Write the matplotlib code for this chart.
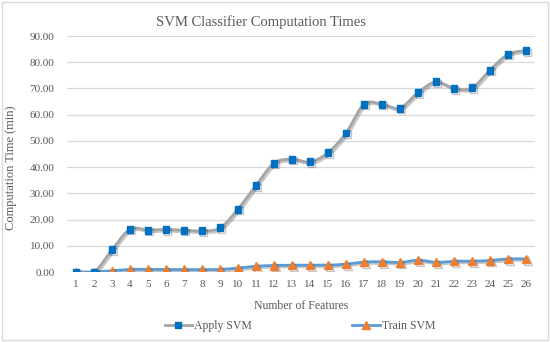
import numpy as np
import matplotlib
matplotlib.use("Agg")
import matplotlib.pyplot as plt
from matplotlib import patheffects as pe
from matplotlib.lines import Line2D
from matplotlib.patches import Rectangle

features = list(range(1, 27))
apply_svm = [0.0, 0.0, 8.5, 16.3, 16.0, 16.2, 15.9, 15.7, 16.8, 24.0, 33.0, 41.5, 43.0,
             42.0, 45.5, 53.0, 64.0, 64.0, 62.5, 68.5, 72.5, 70.0, 70.2, 77.0, 83.0, 84.5]
train_svm = [0.0, 0.0, 0.5, 1.0, 1.0, 0.9, 0.9, 0.9, 1.0, 1.5, 2.2, 2.5, 2.6,
             2.6, 2.6, 3.0, 3.8, 3.9, 3.6, 4.5, 3.7, 4.1, 4.1, 4.4, 5.0, 5.0]
yticks = [0, 10, 20, 30, 40, 50, 60, 70, 80, 90]

plt.rcParams['font.family'] = ['Liberation Serif', 'DejaVu Serif']


def smooth(x, y, n=20):
    # Catmull-Rom style smoothing for drawing the connecting curve
    x = np.asarray(x, float)
    y = np.asarray(y, float)
    px = np.concatenate([[2 * x[0] - x[1]], x, [2 * x[-1] - x[-2]]])
    py = np.concatenate([[2 * y[0] - y[1]], y, [2 * y[-1] - y[-2]]])
    xs, ys = [], []
    for i in range(1, len(px) - 2):
        t = np.linspace(0, 1, n, endpoint=False)
        for p, out in ((px, xs), (py, ys)):
            p0, p1, p2, p3 = p[i - 1], p[i], p[i + 1], p[i + 2]
            c1 = p1 + (p2 - p0) / 6
            c2 = p2 - (p3 - p1) / 6
            out.extend((1 - t) ** 3 * p1 + 3 * (1 - t) ** 2 * t * c1 + 3 * (1 - t) * t ** 2 * c2 + t ** 3 * p2)
    xs.append(x[-1]); ys.append(y[-1])
    return np.array(xs), np.array(ys)


fig = plt.figure(figsize=(5.5, 3.42), dpi=100)
ax = fig.add_axes([67 / 550, 1 - 272 / 342, (535 - 67) / 550, (272 - 36) / 342])

shadow = [pe.SimpleLineShadow(offset=(1.2, -1.2), shadow_color='k', alpha=0.22), pe.Normal()]

ax.set_ylim(0, 90)
ax.set_xlim(0.5, 26.5)
for yv in yticks:
    ax.axhline(yv, color='#d9d9d9', lw=0.9, zorder=0)

sx, sy = smooth(features, train_svm)
ax.plot(sx, sy, color='#5B9BD5', lw=2.0, zorder=2, path_effects=shadow)
ax.plot(features, train_svm, ls='none', marker='^', ms=6, color='#ED7D31', mec='#ED7D31',
        zorder=3, path_effects=shadow)

sx, sy = smooth(features, apply_svm)
ax.plot(sx, sy, color='#A5A5A5', lw=2.0, zorder=4, path_effects=shadow)
ax.plot(features, apply_svm, ls='none', marker='s', ms=5, color='#0070C0', mec='#0070C0',
        zorder=5, path_effects=shadow)

ax.set_yticks(yticks)
ax.set_yticklabels([f"{v:.2f}" for v in yticks])
ax.set_xticks(features)
ax.set_xticklabels([str(f) for f in features])
ax.tick_params(axis='both', length=0, labelsize=8, colors='#595959')
ax.tick_params(axis='y', pad=9)
ax.tick_params(axis='x', pad=6)
for s in ax.spines.values():
    s.set_visible(False)

ax.set_xlabel('Number of Features', fontsize=8.5, color='#595959', labelpad=8)
ax.set_ylabel('Computation Time (min)', fontsize=9, color='#595959')
ax.yaxis.set_label_coords((17 - 67) / 468, (272 - 168) / 236)
fig.text(261 / 550, 1 - 22 / 342, 'SVM Classifier Computation Times', ha='center', va='center',
         fontsize=10.5, color='#595959')

h1 = Line2D([], [], color='#A5A5A5', lw=2, marker='s', ms=5, mfc='#0070C0', mec='#0070C0')
h2 = Line2D([], [], color='#5B9BD5', lw=2, marker='^', ms=6, mfc='#ED7D31', mec='#ED7D31')
fig.legend([h1, h2], ['Apply SVM', 'Train SVM'], loc='center', bbox_to_anchor=(300 / 550, 1 - 326 / 342),
           ncol=2, frameon=False, fontsize=8.5, labelcolor='#595959', columnspacing=8.5,
           handlelength=2.3, handletextpad=0.2, borderpad=0)

fig.patches.append(Rectangle((2 / 550, 2 / 342), 546 / 550, 338 / 342, transform=fig.transFigure,
                             fill=False, ec='#d9d9d9', lw=1))

fig.savefig('out.png', dpi=100)
